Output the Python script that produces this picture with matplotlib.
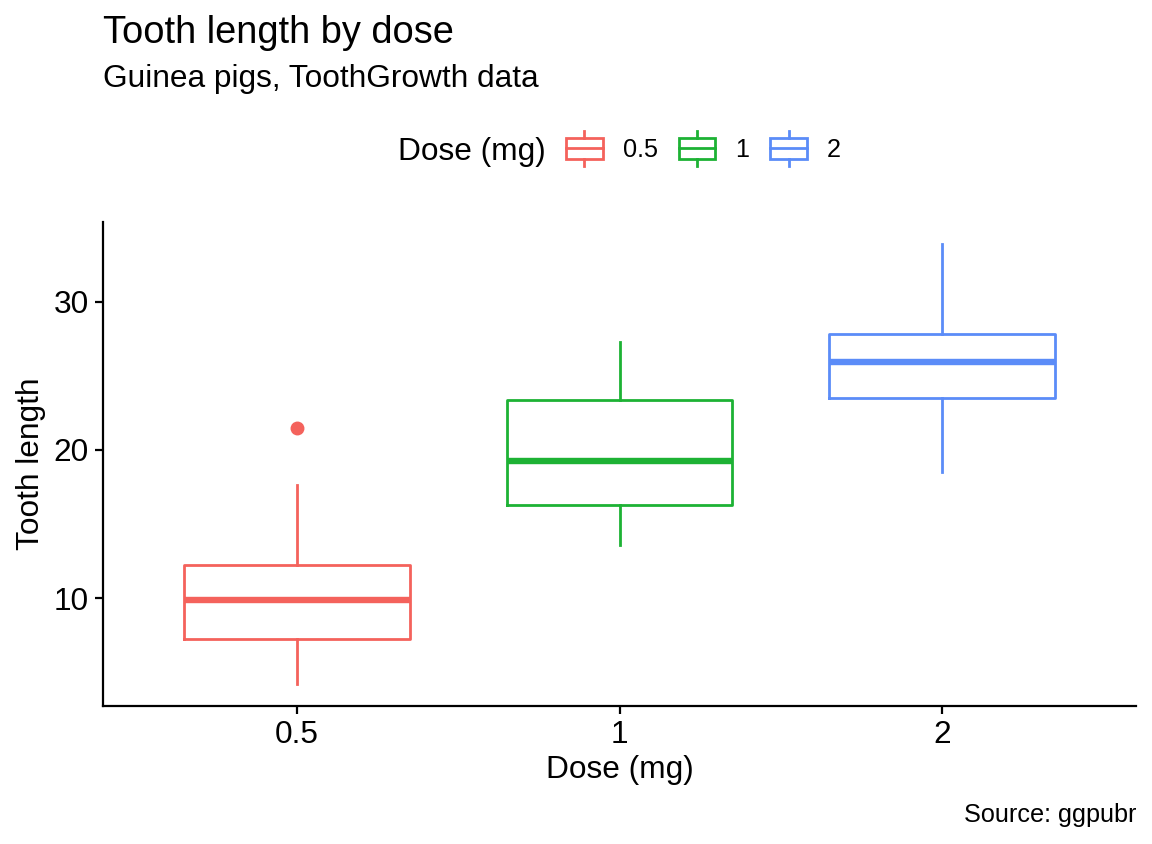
import matplotlib
matplotlib.use('Agg')
import matplotlib.pyplot as plt
from matplotlib.patches import Patch, Rectangle
from matplotlib.lines import Line2D
from matplotlib.legend_handler import HandlerBase

plt.rcParams['font.family'] = ['Liberation Sans', 'DejaVu Sans']

# ToothGrowth summary
doses = ['0.5', '1', '2']
colors = ['#F4625C', '#1DB234', '#5B8CF8']
whislo = [4.2, 13.6, 18.5]
q1 = [7.225, 16.25, 23.525]
med = [9.85, 19.25, 25.95]
q3 = [12.25, 23.375, 27.825]
whishi = [17.6, 27.3, 33.9]
fliers = [[21.5], [], []]

W, H = 1152, 844
fig = plt.figure(figsize=(W / 100, H / 100), dpi=100)
ax = fig.add_axes([103 / W, 1 - 706 / H, (1136 - 103) / W, (706 - 222) / H])

for i in range(len(doses)):
    c = colors[i]
    st = dict(whislo=whislo[i], q1=q1[i], med=med[i], q3=q3[i],
              whishi=whishi[i], fliers=fliers[i])
    ax.bxp([st], positions=[i + 1], widths=0.7, showcaps=False,
           boxprops=dict(color=c, lw=2.0),
           whiskerprops=dict(color=c, lw=2.0),
           medianprops=dict(color=c, lw=4.6, solid_capstyle='butt'),
           flierprops=dict(marker='o', markerfacecolor=c, markeredgecolor=c,
                           markersize=9))

ax.set_xlim(0.4, 3.6)
ax.set_xticks([1, 2, 3])
ax.set_xticklabels(doses)
ax.set_yticks([10, 20, 30])
for s in ['top', 'right']:
    ax.spines[s].set_visible(False)
for s in ['left', 'bottom']:
    ax.spines[s].set_linewidth(1.6)
ax.tick_params(length=6, width=1.6, labelsize=22.8, pad=4, colors='black')
ax.set_xlabel('Dose (mg)', fontsize=22.8, labelpad=4)
ax.set_ylabel('Tooth length', fontsize=22.8, labelpad=6)


class BoxKey(HandlerBase):
    def create_artists(self, legend, orig, xd, yd, width, height, fontsize, trans):
        c = orig.get_edgecolor()
        x0, y0 = -xd, -yd
        cx = x0 + width / 2
        ext = 4.7
        box = Rectangle((x0, y0), width, height, facecolor='white',
                        edgecolor=c, lw=2.0, transform=trans)
        mid = Line2D([x0, x0 + width], [y0 + height / 2] * 2, color=c, lw=2.0,
                     transform=trans)
        lo = Line2D([cx, cx], [y0 - ext, y0], color=c, lw=2.0, transform=trans)
        hi = Line2D([cx, cx], [y0 + height, y0 + height + ext], color=c, lw=2.0,
                    transform=trans)
        return [box, mid, lo, hi]


handles = [Patch(edgecolor=c, facecolor='white') for c in colors]
fig.legend(handles=handles, labels=doses, handler_map={Patch: BoxKey()},
           ncol=3, loc='center left', bbox_to_anchor=(566 / W, 1 - 150 / H),
           frameon=False, borderpad=0, borderaxespad=0, handlelength=1.45,
           handleheight=0.91, handletextpad=0.79, columnspacing=0.83,
           fontsize=18.2)
fig.text(398 / W, 1 - 160 / H, 'Dose (mg)', fontsize=22.8, va='baseline')

fig.text(103 / W, 1 - 43 / H, 'Tooth length by dose', fontsize=27.4, va='baseline')
fig.text(103 / W, 1 - 87 / H, 'Guinea pigs, ToothGrowth data', fontsize=22.8,
         va='baseline')
fig.text(1136 / W, 1 - 815 / H, 'Source: ggpubr', fontsize=18.2, ha='right',
         va='center')

fig.savefig('out.png', dpi=100)
